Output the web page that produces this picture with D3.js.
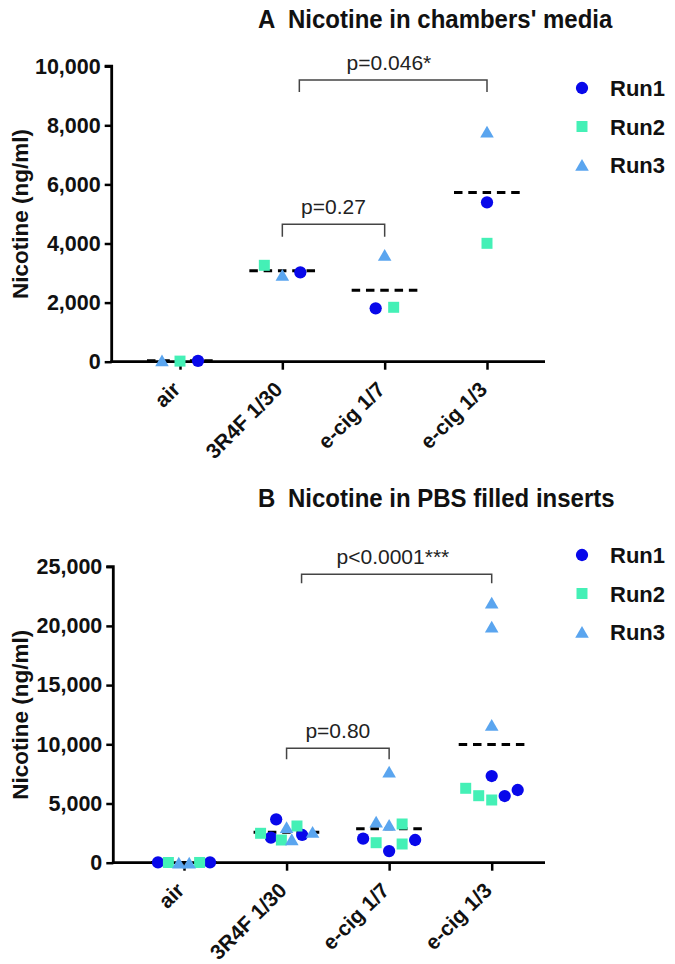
<!DOCTYPE html>
<html><head><meta charset="utf-8">
<script src="https://cdn.jsdelivr.net/npm/d3@7"></script>
<style>
body{margin:0;background:#fff}
svg{display:block}
text{font-family:"Liberation Sans",Arial,Helvetica,sans-serif}
</style>
</head><body>
<svg id="chart" width="675" height="964"></svg>
<script>
// ---------------- DATA ----------------
const categories = ["air", "3R4F 1/30", "e-cig 1/7", "e-cig 1/3"];
const seriesNames = ["Run1", "Run2", "Run3"];

// Panel A : Nicotine in chambers' media (ng/ml), values per category
const A_run1 = [[30], [3025], [1807], [5394]];
const A_run2 = [[20], [3262], [1841], [4006]];
const A_run3 = [[45], [2934], [3611], [7783]];
const A_ticks = [0, 2000, 4000, 6000, 8000, 10000];
const A_title = "Nicotine in chambers' media";
const A_letter = "A";
const A_comparisons = [
  {from: "3R4F 1/30", to: "e-cig 1/7", label: "p=0.27"},
  {from: "3R4F 1/30", to: "e-cig 1/3", label: "p=0.046*"}
];

// Panel B : Nicotine in PBS filled inserts (ng/ml)
const B_run1 = [[25, 30], [3666, 2111, 2340], [980, 1917, 2027], [7322, 5633, 6140]];
const B_run2 = [[15, 20], [2483, 3100, 1917], [3269, 1689, 1579], [6284, 5659, 5296]];
const B_run3 = [[5, 8], [2990, 2593, 1976], [3184, 7686, 3463], [21959, 19932, 11630]];
const B_ticks = [0, 5000, 10000, 15000, 20000, 25000];
const B_title = "Nicotine in PBS filled inserts";
const B_letter = "B";
const B_comparisons = [
  {from: "3R4F 1/30", to: "e-cig 1/7", label: "p=0.80"},
  {from: "3R4F 1/30", to: "e-cig 1/3", label: "p<0.0001***"}
];

const yLabel = "Nicotine (ng/ml)";

// ---------------- STYLE / LAYOUT ----------------
const colors = {Run1: "#0808ea", Run2: "#44f0b6", Run3: "#5aa5ef"};
const shapes = {Run1: d3.symbolCircle, Run2: d3.symbolSquare, Run3: d3.symbolTriangle};
const sizes = {Run1: 118, Run2: 121, Run3: 80};

const panels = [
  {letter: A_letter, title: A_title, runs: [A_run1, A_run2, A_run3], ticks: A_ticks,
   comps: A_comparisons,
   L: {axisX: 111.7, y0: 361.7, yTop: 66.2, xFirst: 180, xLast: 487, xEnd: 545, titleY: 28,
       legendY: 88, compLevels: [224.3, 80], compLeftShift: [0, 17], compDrop: [12.4, 12]}},
  {letter: B_letter, title: B_title, runs: [B_run1, B_run2, B_run3], ticks: B_ticks,
   comps: B_comparisons,
   L: {axisX: 113.3, y0: 862.7, yTop: 566.7, xFirst: 184, xLast: 491.7, xEnd: 545, titleY: 507,
       legendY: 555, compLevels: [748.3, 574.3], compLeftShift: [0, 15], compDrop: [11, 9]}}
];

const svg = d3.select("#chart");

function dodge(points, y) {
  const sorted = points.slice().sort((a, b) => a.v - b.v);
  const rows = [];
  let cur = null;
  sorted.forEach(p => {
    const py = y(p.v);
    if (cur && cur.y0 - py < 12.5) cur.pts.push(p);
    else { cur = {y0: py, pts: [p]}; rows.push(cur); }
  });
  const maxN = d3.max(rows, r => r.pts.length);
  const step = maxN > 1 ? Math.min(18, 52 / (maxN - 1)) : 18;
  rows.forEach(r => {
    const n = r.pts.length;
    r.pts.forEach((p, i) => {
      if (n % 2 === 1) {
        const k = Math.ceil(i / 2);
        p.dx = (i === 0 ? 0 : (i % 2 === 1 ? k : -k)) * step;
      } else {
        const k = Math.floor(i / 2) + 0.5;
        p.dx = (i % 2 === 0 ? -k : k) * step;
      }
    });
  });
}

panels.forEach(P => {
  const L = P.L;
  const g = svg.append("g");
  const y = d3.scaleLinear().domain([0, d3.max(P.ticks)]).range([L.y0, L.yTop]);
  const x = d3.scalePoint().domain(categories).range([L.xFirst, L.xLast]);

  // title (slightly tall glyphs as in the reference)
  g.append("text").attr("transform", `translate(258,${L.titleY}) scale(1,1.1)`)
    .attr("font-size", 24).attr("font-weight", "bold").attr("fill", "#111").text(P.letter);
  g.append("text").attr("transform", `translate(288,${L.titleY}) scale(1,1.1)`)
    .attr("font-size", 24).attr("font-weight", "bold").attr("fill", "#111").text(P.title);

  // y axis
  const yAxis = d3.axisLeft(y).tickValues(P.ticks).tickSize(7).tickPadding(4)
    .tickFormat(d3.format(","));
  const ya = g.append("g").attr("transform", `translate(${L.axisX},0)`).call(yAxis);
  ya.select(".domain").attr("stroke", "#000").attr("stroke-width", 2.8)
    .attr("d", `M-7,${L.yTop}H0V${L.y0}`);
  ya.selectAll(".tick line").attr("stroke", "#000").attr("stroke-width", 2.5);
  ya.selectAll(".tick text").attr("font-size", 21.5).attr("font-weight", "bold").attr("fill", "#111")
    .attr("font-family", "'Liberation Sans',Arial,sans-serif");

  // y label
  g.append("text")
    .attr("transform", `translate(28,${(L.y0 + L.yTop) / 2}) rotate(-90)`)
    .attr("text-anchor", "middle").attr("font-size", 22.5).attr("font-weight", "bold").attr("fill", "#111")
    .text(yLabel);

  // x axis
  const xAxis = d3.axisBottom(x).tickSize(8).tickFormat("");
  const xa = g.append("g").attr("transform", `translate(0,${L.y0})`).call(xAxis);
  xa.select(".domain").attr("stroke", "#000").attr("stroke-width", 2.8)
    .attr("d", `M${L.axisX - 1.4},0H${L.xEnd}`);
  xa.selectAll(".tick line").attr("stroke", "#000").attr("stroke-width", 2.5);
  xa.selectAll(".tick").append("text")
    .attr("transform", `translate(1,29) rotate(-45)`)
    .attr("text-anchor", "end").attr("fill", "#111")
    .attr("font-size", 21).attr("font-weight", "bold")
    .attr("font-family", "'Liberation Sans',Arial,sans-serif")
    .text(d => d);

  // points
  const pts = [];
  categories.forEach((c, ci) => {
    const group = [];
    seriesNames.forEach((s, si) => {
      P.runs[si][ci].forEach(v => group.push({c, s, v}));
    });
    dodge(group, y);
    group.forEach(p => pts.push(p));
  });

  // mean lines
  const means = categories.map((c, ci) => ({c, m: d3.mean(pts.filter(p => p.c === c), p => p.v)}));
  g.selectAll(".mean").data(means).enter().append("line")
    .attr("x1", d => x(d.c) - 33).attr("x2", d => x(d.c) + 33)
    .attr("y1", d => y(d.m)).attr("y2", d => y(d.m))
    .attr("stroke", "#000").attr("stroke-width", 3).attr("stroke-dasharray", "8.5,5.8");

  const sym = d3.symbol();
  seriesNames.forEach(s => {
    const off = s === "Run3" ? 1.9 : 0;
    g.selectAll(null).data(pts.filter(p => p.s === s)).enter().append("path")
      .attr("d", sym.type(shapes[s]).size(sizes[s])())
      .attr("transform", p => `translate(${x(p.c) + p.dx},${y(p.v) + off})`)
      .attr("fill", colors[s]);
  });

  // comparison brackets
  P.comps.forEach((cp, i) => {
    const x1 = x(cp.from) + L.compLeftShift[i], x2 = x(cp.to);
    const yy = L.compLevels[i], dr = L.compDrop[i];
    const tx = ((x1 + x2) / 2 + (x(cp.from) + x(cp.to)) / 2) / 2;
    g.append("path").attr("d", `M${x1},${yy + dr}V${yy}H${x2}V${yy + dr}`)
      .attr("fill", "none").attr("stroke", "#444").attr("stroke-width", 1.5);
    g.append("text").attr("x", tx).attr("y", yy - 10)
      .attr("text-anchor", "middle").attr("font-size", 21).attr("fill", "#222")
      .text(cp.label);
  });

  // legend
  seriesNames.forEach((s, i) => {
    const ly = L.legendY + i * 38.5;
    const off = s === "Run3" ? 1.9 : 0;
    g.append("path").attr("d", sym.type(shapes[s]).size(sizes[s])())
      .attr("transform", `translate(582,${ly + off})`).attr("fill", colors[s]);
    g.append("text").attr("x", 610).attr("y", ly + 8).attr("font-size", 22).attr("font-weight", "bold")
      .attr("fill", "#111").text(s);
  });
});
</script>
</body></html>
